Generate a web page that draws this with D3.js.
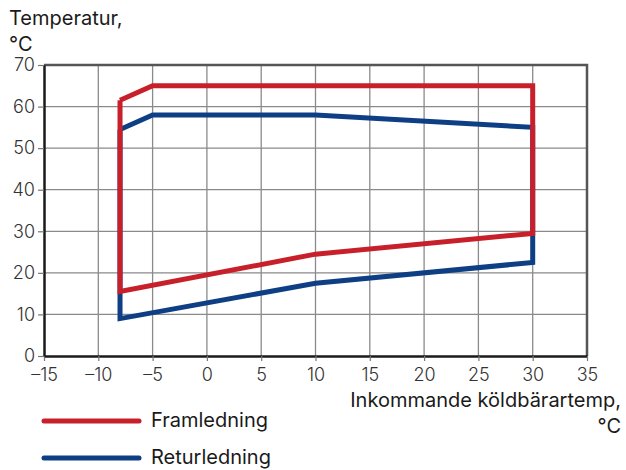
<!DOCTYPE html>
<html>
<head>
<meta charset="utf-8">
<script src="https://cdn.jsdelivr.net/npm/d3@7"></script>
<style>
  body { margin: 0; background: #fff; }
  text { font-family: Inter, Roboto, "Noto Sans", sans-serif; }
</style>
</head>
<body>
<svg width="626" height="470"></svg>
<script>
// data
const xTicks = [-15, -10, -5, 0, 5, 10, 15, 20, 25, 30, 35];
const yTicks = [0, 10, 20, 30, 40, 50, 60, 70];

// closed operating envelopes: [incoming brine temp, temperature]
const framX = [-8, -5, 30, 30, 10, -8, -8];
const framY = [61.5, 65, 65, 29.5, 24.5, 15.5, 61.5];
const returX = [-8, -5, 10, 30, 30, 10, -8, -8];
const returY = [54.5, 58, 58, 55, 22.5, 17.5, 9, 54.5];

const seriesNames = ["Framledning", "Returledning"];
const seriesColors = ["#c8202b", "#0e3f84"];

const svg = d3.select("svg"),
  plotLeft = 44, plotRight = 587, plotTop = 65, plotBottom = 356;

const x = d3.scaleLinear().domain([-15, 35]).range([plotLeft, plotRight]);
const y = d3.scaleLinear().domain([0, 70]).range([plotBottom, plotTop]);

// grid
svg.append("g")
  .selectAll("line")
  .data(xTicks.slice(1, -1))
  .enter().append("line")
  .attr("x1", d => x(d)).attr("x2", d => x(d))
  .attr("y1", plotTop).attr("y2", plotBottom)
  .attr("stroke", "#8a8a8a").attr("stroke-width", 1.3);

svg.append("g")
  .selectAll("line")
  .data(yTicks.slice(1, -1))
  .enter().append("line")
  .attr("x1", plotLeft).attr("x2", plotRight)
  .attr("y1", d => y(d)).attr("y2", d => y(d))
  .attr("stroke", "#8a8a8a").attr("stroke-width", 1.3);

// frame top / right
svg.append("path")
  .attr("d", `M${plotLeft},${plotTop}H${plotRight}V${plotBottom}`)
  .attr("fill", "none").attr("stroke", "#555").attr("stroke-width", 2.5);

// axes
const xAxis = svg.append("g")
  .attr("transform", `translate(0,${plotBottom})`)
  .call(d3.axisBottom(x).tickValues(xTicks).tickSize(5).tickSizeOuter(0)
    .tickFormat(d => d < 0 ? "\u2013" + Math.abs(d) : d));
xAxis.select(".domain").attr("stroke", "#1a1a1a").attr("stroke-width", 2.5);
xAxis.selectAll(".tick line").attr("stroke", "#777").attr("stroke-width", 1.2);
xAxis.selectAll("text").attr("font-size", 18).attr("font-weight", 300)
  .attr("fill", "#333").attr("y", 12);

const yAxis = svg.append("g")
  .attr("transform", `translate(${plotLeft},0)`)
  .call(d3.axisLeft(y).tickValues(yTicks).tickSize(6).tickSizeOuter(0));
yAxis.select(".domain").attr("stroke", "#1a1a1a").attr("stroke-width", 2.5);
yAxis.selectAll(".tick line").attr("stroke", "#777").attr("stroke-width", 1.2);
yAxis.selectAll("text").attr("font-size", 18).attr("font-weight", 300)
  .attr("fill", "#333").attr("x", -9);

// envelopes
const line = d3.line().x(d => x(d[0])).y(d => y(d[1]));
const retur = returX.map((v, i) => [v, returY[i]]);
const fram = framX.map((v, i) => [v, framY[i]]);

svg.append("path").datum(retur)
  .attr("d", line).attr("fill", "none")
  .attr("stroke", seriesColors[1]).attr("stroke-width", 5)
  .attr("stroke-linejoin", "miter");
svg.append("path").datum(fram)
  .attr("d", line).attr("fill", "none")
  .attr("stroke", seriesColors[0]).attr("stroke-width", 5)
  .attr("stroke-linejoin", "miter");

// axis titles
svg.append("text").attr("x", 9).attr("y", 25).attr("font-size", 20).attr("fill", "#1a1a1a").text("Temperatur,");
svg.append("text").attr("x", 9).attr("y", 51).attr("font-size", 20).attr("fill", "#1a1a1a").text("\u00b0C");
svg.append("text").attr("x", 621).attr("y", 407).attr("text-anchor", "end").attr("font-size", 20).attr("fill", "#1a1a1a").text("Inkommande k\u00f6ldb\u00e4rartemp,");
svg.append("text").attr("x", 621).attr("y", 433).attr("text-anchor", "end").attr("font-size", 20).attr("fill", "#1a1a1a").text("\u00b0C");

// legend
const legend = svg.append("g")
  .selectAll("g")
  .data(seriesNames)
  .enter().append("g")
  .attr("transform", (d, i) => `translate(0,${421 + i * 37})`);
legend.append("line")
  .attr("x1", 44).attr("x2", 139)
  .attr("stroke", (d, i) => seriesColors[i])
  .attr("stroke-width", 5).attr("stroke-linecap", "round");
legend.append("text")
  .attr("x", 151).attr("y", 6).attr("font-size", 20).attr("fill", "#1a1a1a")
  .text(d => d);
</script>
</body>
</html>
